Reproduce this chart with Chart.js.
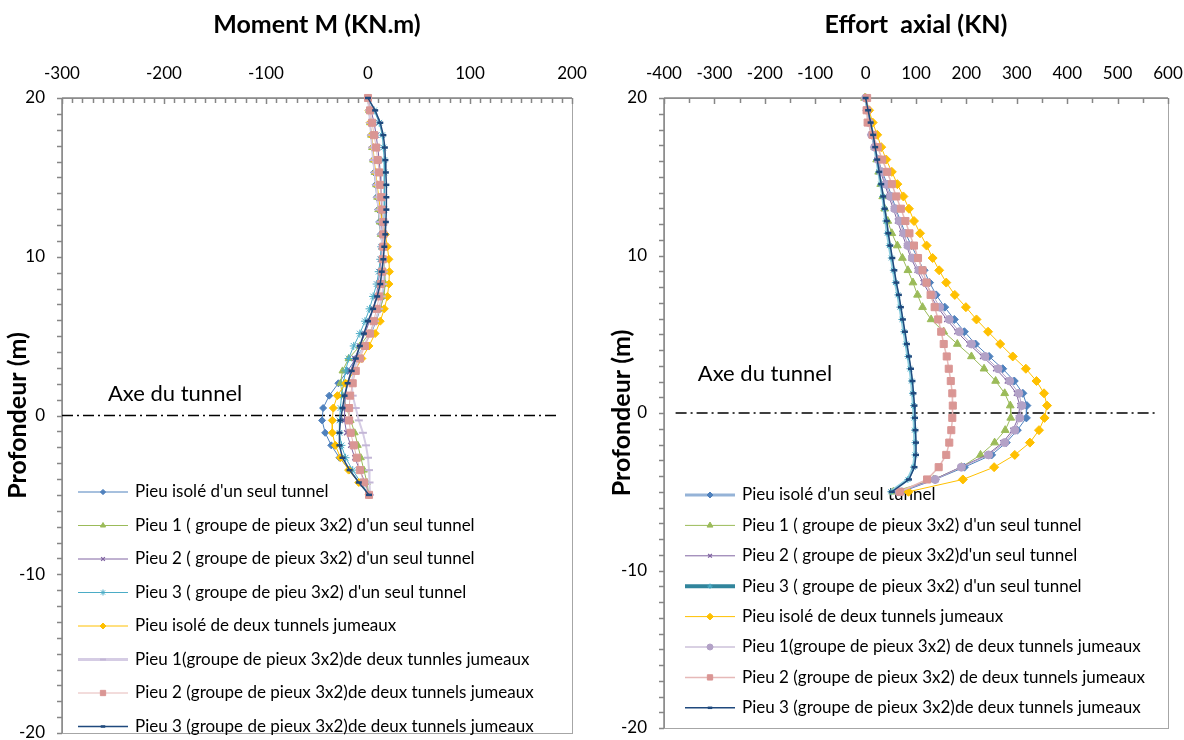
<!DOCTYPE html>
<html>
<head>
<meta charset="utf-8">
<script src="https://cdn.jsdelivr.net/npm/chart.js@4.4.0/dist/chart.umd.min.js"></script>
<style>
  body { margin: 0; background: #fff; }
  canvas { position: absolute; top: 0; }
  #momentChart { left: 0; }
  #effortChart { left: 592px; }
</style>
</head>
<body>
<canvas id="momentChart" width="592" height="740"></canvas>
<canvas id="effortChart" width="592" height="740"></canvas>
<script>
// profondeur des noeuds du pieu (m)
const depth = [20.00, 19.22, 18.44, 17.66, 16.88, 16.09, 15.31, 14.53, 13.75, 12.97, 12.19,
  11.41, 10.63, 9.84, 9.06, 8.28, 7.50, 6.72, 5.94, 5.16, 4.38, 3.59, 2.81, 2.03, 1.25,
  0.47, -0.31, -1.09, -1.88, -2.66, -3.44, -4.22, -5.00];

const momentNames = [
  "Pieu isolé d'un seul tunnel",
  "Pieu 1 ( groupe de pieux 3x2) d'un seul tunnel",
  "Pieu 2 ( groupe de pieux 3x2) d'un seul tunnel",
  "Pieu 3 ( groupe de pieu 3x2) d'un seul tunnel",
  "Pieu isolé de deux tunnels jumeaux",
  "Pieu 1(groupe de pieux 3x2)de deux tunnles jumeaux",
  "Pieu 2 (groupe de pieux 3x2)de deux tunnels jumeaux",
  "Pieu 3 (groupe de pieux 3x2)de deux tunnels jumeaux"
];
const effortNames = [
  "Pieu isolé d'un seul tunnel",
  "Pieu 1 ( groupe de pieux 3x2) d'un seul tunnel",
  "Pieu 2 ( groupe de pieux 3x2)d'un seul tunnel",
  "Pieu 3 ( groupe de pieux 3x2) d'un seul tunnel",
  "Pieu isolé de deux tunnels jumeaux",
  "Pieu 1(groupe de pieux 3x2) de deux tunnels jumeaux",
  "Pieu 2 (groupe de pieux 3x2) de deux tunnels jumeaux",
  "Pieu 3 (groupe de pieux 3x2)de deux tunnels jumeaux"
];

// moment fléchissant M (kN.m)
const mIsoleSeul = [0, 1, 2, 3, 4, 5, 6, 7.5, 8.5, 10, 11, 12.5, 14, 15, 16, 16, 15, 12, 8, 3, -4, -12, -20, -29, -38, -44, -45, -42, -36, -28, -18, -8, 1];
const mPieu1Seul = [0, 1, 2, 3, 4, 5, 6.5, 8, 9, 10, 11.5, 12.5, 14, 15.5, 16.5, 17, 15.5, 12, 7, 1, -8, -19, -25, -27, -25, -21, -17, -13, -10, -7, -4, -1, 1];
const mPieu2Seul = [0, 3, 6, 8, 9.5, 11, 12, 12.5, 13, 13.5, 13.5, 13.5, 13, 12.5, 11.5, 10, 8, 5, 1.5, -3, -8, -13, -17, -20, -22, -23, -23, -21, -17, -13, -8, -3, 1];
const mPieu3Seul = [0, 6, 11, 14, 15, 16, 16, 16, 16, 16, 15.5, 14.5, 13, 12, 10.5, 8.5, 5, 1.5, -3, -8, -14, -19, -22, -24, -26, -27, -28, -28, -26, -22, -15, -7, 1];
const mIsoleJum = [0, 1, 2, 3.5, 5, 6, 7.5, 9, 10.5, 12, 14, 17, 19, 20.5, 21, 20.5, 19, 16, 12, 7, 1, -6, -13, -22, -30, -34, -35, -35, -32, -27, -19, -9, 1];
const mPieu1Jum = [0, 1, 2, 3, 4, 5, 6.5, 8, 9, 10.5, 12, 13, 14, 15, 15.5, 15, 13.5, 11, 7, 2, -4, -10, -14, -16, -15, -12, -9, -5, -2, 0, 1, 1.5, 2];
const mPieu2Jum = [0, 2, 4, 6, 8, 9.5, 11, 12, 13, 14, 15, 15, 15, 14.5, 14, 12.5, 11, 8.5, 5.5, 2, -3, -8, -12, -15, -17.5, -18.5, -18.5, -17, -14, -11, -8, -4, 1];
const mPieu3Jum = [0, 7, 12, 15, 16.5, 17, 17.5, 18, 18, 18, 17.5, 17, 16, 15, 13.5, 12, 9, 5, 0, -4, -8, -12, -16, -20, -23, -25, -27, -28, -28, -25, -18, -9, 1];

// effort axial N (kN)
const nIsoleSeul = [0, 3, 7, 12, 18, 25, 33, 43, 52, 60, 69, 79, 91, 103, 116, 127, 140, 157, 176, 196, 218, 245, 272, 295, 312, 320, 319, 301, 279, 250, 196, 138, 72];
const nPieu1Seul = [-2, 4, 9, 14, 18, 22, 26, 30, 34, 38, 44, 52, 63, 73, 84, 94, 103, 113, 130, 155, 182, 210, 235, 258, 276, 287, 288, 277, 256, 228, 190, 135, 55];
const nPieu2Seul = [0, 3, 6, 11, 17, 23, 30, 38, 46, 55, 63, 72, 81, 90, 102, 114, 128, 143, 161, 181, 205, 232, 258, 281, 299, 306, 303, 292, 272, 241, 188, 136, 63];
const nPieu3Seul = [0, 4, 9, 14, 18, 22, 26, 30, 34, 37, 40, 43, 47, 51, 55, 59, 64, 68, 72, 76, 80, 84, 88, 91, 93, 95, 96, 97, 98, 98, 95, 84, 50];
const nIsoleJum = [0, 7, 14, 23, 31, 41, 52, 63, 75, 86, 96, 108, 121, 133, 146, 160, 177, 199, 220, 243, 267, 292, 318, 339, 354, 360, 355, 344, 326, 296, 255, 193, 85];
const nPieu1Jum = [0, 3, 7, 12, 18, 25, 32, 40, 49, 58, 67, 76, 84, 93, 106, 119, 133, 147, 166, 186, 210, 237, 263, 286, 304, 310, 306, 296, 276, 244, 190, 138, 66];
const nPieu2Jum = [3, 2, 4, 14, 24, 33, 43, 52, 61, 70, 79, 87, 96, 104, 113, 121, 129, 137, 144, 150, 155, 161, 165, 169, 172, 173, 172, 170, 166, 160, 145, 122, 68];
const nPieu3Jum = [0, 5, 10, 15, 19, 23, 27, 31, 35, 38, 42, 45, 49, 53, 57, 61, 66, 70, 74, 78, 82, 86, 90, 93, 95, 97, 98, 99, 100, 100, 97, 86, 52];

// axe du tunnel (profondeur 0)
const tunnelMomentX = [-300, 186];
const tunnelEffortX = [-377, 578];

const FONT = 'Lato, "Open Sans", sans-serif';

const momentStyles = [
  { borderColor: '#4F81BD', borderWidth: 1, pointStyle: 'rectRot', pointRadius: 3.5, pointBackgroundColor: '#4F81BD', pointBorderColor: '#4F81BD' },
  { borderColor: '#9BBB59', borderWidth: 1, pointStyle: 'triangle', pointRadius: 4, pointBackgroundColor: '#9BBB59', pointBorderColor: '#9BBB59' },
  { borderColor: '#8064A2', borderWidth: 1, pointStyle: 'crossRot', pointRadius: 3.5, pointBackgroundColor: '#8064A2', pointBorderColor: '#8064A2', pointBorderWidth: 1.3 },
  { borderColor: '#4BACC6', borderWidth: 1, pointStyle: 'star', pointRadius: 4, pointBackgroundColor: '#4BACC6', pointBorderColor: '#4BACC6' },
  { borderColor: '#FFC000', borderWidth: 1, pointStyle: 'rectRot', pointRadius: 4, pointBackgroundColor: '#FFC000', pointBorderColor: '#FFC000' },
  { borderColor: '#D5CCE4', borderWidth: 2, pointStyle: 'line', pointRadius: 4, pointBackgroundColor: '#C3B6D6', pointBorderColor: '#C3B6D6', pointBorderWidth: 2, legendWidth: 3 },
  { borderColor: '#E6B9B8', borderWidth: 1, pointStyle: 'rect', pointRadius: 5, pointBackgroundColor: '#DA9694', pointBorderColor: '#DA9694' },
  { borderColor: '#1F497D', borderWidth: 1.5, pointStyle: 'line', pointRadius: 3, pointBackgroundColor: '#1F497D', pointBorderColor: '#1F497D', pointBorderWidth: 2.5 }
];

const effortStyles = [
  { borderColor: '#4F81BD', borderWidth: 1, pointStyle: 'rectRot', pointRadius: 4, pointBackgroundColor: '#4F81BD', pointBorderColor: '#4F81BD', legendColor: '#95B3D7', legendWidth: 3 },
  { borderColor: '#9BBB59', borderWidth: 1, pointStyle: 'triangle', pointRadius: 4.5, pointBackgroundColor: '#9BBB59', pointBorderColor: '#9BBB59' },
  { borderColor: '#8064A2', borderWidth: 1, pointStyle: 'crossRot', pointRadius: 3.5, pointBackgroundColor: '#8064A2', pointBorderColor: '#8064A2', pointBorderWidth: 1.3 },
  { borderColor: '#8FCFE0', borderWidth: 3, pointStyle: 'star', pointRadius: 3.5, pointBackgroundColor: '#4BACC6', pointBorderColor: '#4BACC6', legendColor: '#31859C', legendWidth: 4 },
  { borderColor: '#FFC000', borderWidth: 1, pointStyle: 'rectRot', pointRadius: 4.5, pointBackgroundColor: '#FFC000', pointBorderColor: '#FFC000' },
  { borderColor: '#B3A2C7', borderWidth: 1, pointStyle: 'circle', pointRadius: 4, pointBackgroundColor: '#B3A2C7', pointBorderColor: '#B3A2C7' },
  { borderColor: '#E6B9B8', borderWidth: 1.5, pointStyle: 'rect', pointRadius: 5, pointBackgroundColor: '#DA9694', pointBorderColor: '#DA9694' },
  { borderColor: '#1F497D', borderWidth: 1.5, pointStyle: 'line', pointRadius: 3, pointBackgroundColor: '#1F497D', pointBorderColor: '#1F497D', pointBorderWidth: 2.5 }
];

function buildSets(names, series, styles, tunnelX) {
  const sets = series.map((vals, i) => Object.assign({
    label: names[i],
    data: vals.map((v, k) => ({ x: v, y: depth[k] })),
    pointBorderWidth: 1,
    pointHoverRadius: 0,
    clip: false,
    order: series.length - i
  }, styles[i]));
  sets.push({
    label: 'axe',
    guide: true,
    data: tunnelX.map(v => ({ x: v, y: 0 })),
    borderColor: '#000',
    borderWidth: 1.5,
    borderDash: [11, 4, 2, 4],
    pointRadius: 0,
    order: 20
  });
  return sets;
}

// frame, tick marks, legend and tunnel label
const decor = {
  id: 'decor',
  beforeDatasetsDraw(chart, args, o) {
    const { ctx, chartArea: a, scales: { x, y } } = chart;
    ctx.save();
    ctx.strokeStyle = '#A6A6A6';
    ctx.lineWidth = 1;
    ctx.strokeRect(a.left + 0.5, a.top + 0.5, a.right - a.left, a.bottom - a.top);

    ctx.strokeStyle = '#868686';
    ctx.lineWidth = 1.5;
    ctx.beginPath();
    ctx.moveTo(a.left, a.top); ctx.lineTo(a.right, a.top);
    ctx.moveTo(a.left, a.top); ctx.lineTo(a.left, a.bottom);
    const nx = Math.round((x.max - x.min) / o.xMinor);
    for (let i = 0; i <= nx; i++) {
      const px = Math.round(x.getPixelForValue(x.min + i * o.xMinor)) + 0.5;
      ctx.moveTo(px, a.top);
      ctx.lineTo(px, a.top + (i % o.xPerMajor === 0 ? 6 : 5));
    }
    const ny = Math.round((y.max - y.min) / o.yMinor);
    for (let i = 0; i <= ny; i++) {
      const py = Math.round(y.getPixelForValue(y.min + i * o.yMinor)) + 0.5;
      ctx.moveTo(a.left - 5, py);
      ctx.lineTo(a.left, py);
    }
    ctx.stroke();

    // legend
    const lg = o.legend;
    let row = 0;
    chart.data.datasets.forEach(ds => {
      if (ds.guide) return;
      const yy = lg.y0 + row * lg.dy;
      ctx.strokeStyle = ds.legendColor || ds.borderColor;
      ctx.lineWidth = ds.legendWidth || ds.borderWidth;
      ctx.beginPath();
      ctx.moveTo(lg.x0, yy); ctx.lineTo(lg.x1, yy);
      ctx.stroke();
      ctx.fillStyle = ds.pointBackgroundColor;
      ctx.strokeStyle = ds.pointBorderColor;
      ctx.lineWidth = ds.pointBorderWidth;
      Chart.helpers.drawPoint(ctx, {
        pointStyle: ds.pointStyle, radius: ds.pointRadius * 0.75, rotation: 0, borderWidth: ds.pointBorderWidth
      }, (lg.x0 + lg.x1) / 2, yy);
      ctx.fillStyle = '#000';
      ctx.font = '17px ' + FONT;
      ctx.textBaseline = 'middle';
      ctx.textAlign = 'left';
      ctx.fillText(ds.label, lg.tx, yy);
      row++;
    });

    ctx.font = '22px ' + FONT;
    ctx.fillStyle = '#000';
    ctx.textBaseline = 'middle';
    ctx.fillText('Axe du tunnel', x.getPixelForValue(o.axe[0]), y.getPixelForValue(o.axe[1]));
    ctx.restore();
  }
};

function makeOptions(title, xmin, xmax, yTitlePad, padRight, padBottom, yWidth, decorOpts) {
  return {
    responsive: false,
    devicePixelRatio: 1,
    animation: false,
    events: [],
    layout: { padding: { left: 0, top: 0, right: padRight, bottom: padBottom } },
    plugins: { legend: { display: false }, tooltip: { enabled: false }, decor: decorOpts },
    scales: {
      x: {
        type: 'linear', position: 'top', min: xmin, max: xmax,
        grid: { display: false }, border: { display: false },
        ticks: { stepSize: 100, autoSkip: false, maxRotation: 0, padding: 6, color: '#000', font: { family: FONT, size: 17 } },
        title: { display: true, text: title, color: '#000', padding: { top: 10, bottom: 0 },
          font: { family: FONT, size: 25, weight: 'bold', lineHeight: 1.2 } },
        afterFit(s) { s.height = 98; s.paddingLeft = 0; s.paddingRight = 0; }
      },
      y: {
        type: 'linear', min: -20, max: 20,
        grid: { display: false }, border: { display: false },
        ticks: { stepSize: 10, autoSkip: false, padding: 9, color: '#000', font: { family: FONT, size: 17 } },
        title: { display: true, text: 'Profondeur (m)', color: '#000', padding: { top: yTitlePad, bottom: 0 },
          font: { family: FONT, size: 25, weight: 'bold', lineHeight: 1.2 } },
        afterFit(s) { s.width = yWidth; s.paddingTop = 0; s.paddingBottom = 0; }
      }
    }
  };
}

new Chart(document.getElementById('momentChart'), {
  type: 'line',
  data: {
    datasets: buildSets(momentNames,
      [mIsoleSeul, mPieu1Seul, mPieu2Seul, mPieu3Seul, mIsoleJum, mPieu1Jum, mPieu2Jum, mPieu3Jum],
      momentStyles, tunnelMomentX)
  },
  options: makeOptions('Moment M (KN.m)', -300, 200, 3, 20, 7, 62, {
    xMinor: 10, xPerMajor: 10, yMinor: 1,
    legend: { x0: 78, x1: 128, tx: 135, y0: 492, dy: 33.5 },
    axe: [-255, 1.35]
  }),
  plugins: [decor]
});

new Chart(document.getElementById('effortChart'), {
  type: 'line',
  data: {
    datasets: buildSets(effortNames,
      [nIsoleSeul, nPieu1Seul, nPieu2Seul, nPieu3Seul, nIsoleJum, nPieu1Jum, nPieu2Jum, nPieu3Jum],
      effortStyles, tunnelEffortX)
  },
  options: makeOptions('Effort  axial (KN)', -400, 600, 15, 16, 12, 72, {
    xMinor: 50, xPerMajor: 2, yMinor: 1,
    legend: { x0: 93, x1: 143, tx: 150, y0: 495, dy: 30.4 },
    axe: [-333, 2.5]
  }),
  plugins: [decor]
});
</script>
</body>
</html>
